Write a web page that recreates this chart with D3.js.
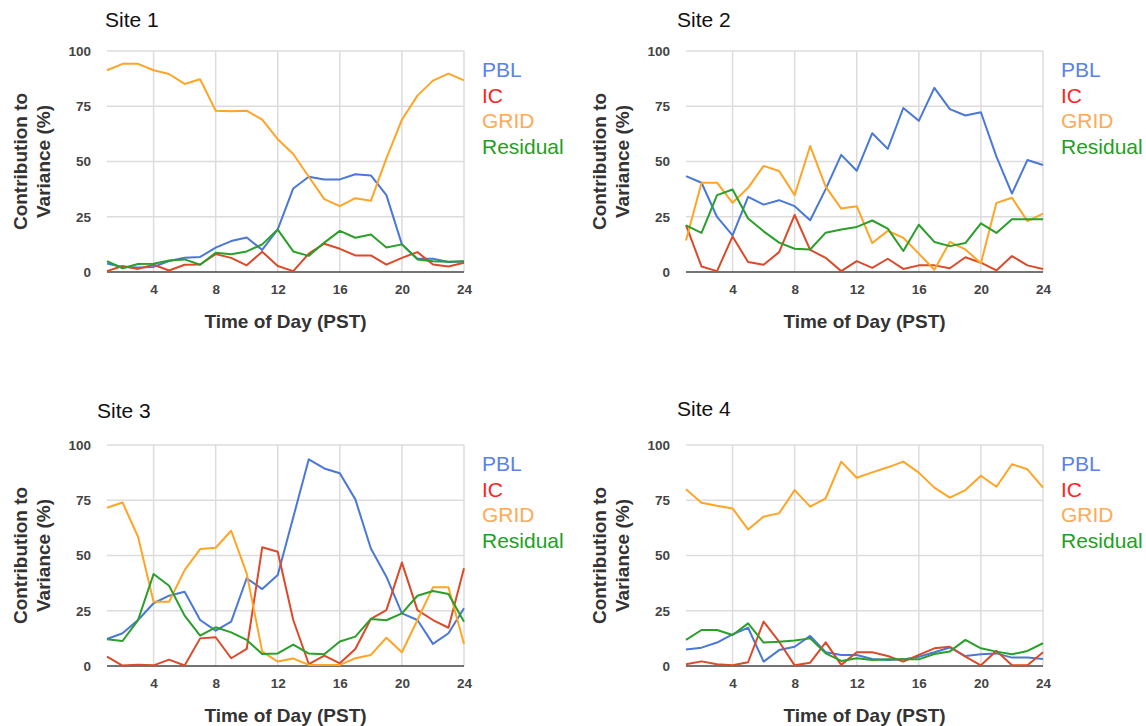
<!DOCTYPE html>
<html>
<head>
<meta charset="utf-8">
<script src="https://cdn.jsdelivr.net/npm/d3@7"></script>
<style>
  body { margin: 0; background: #fff; }
  svg text { font-family: "Liberation Sans", Arial, sans-serif; }
  .tick line { display: none; }
  .domain { display: none; }
</style>
</head>
<body>
<svg id="chart" width="1146" height="726"></svg>
<script>
// hours of the day
var hours = d3.range(1, 25);
var xTicks = [4, 8, 12, 16, 20, 24];
var yTicks = [0, 25, 50, 75, 100];
var seriesNames = ['PBL', 'IC', 'GRID', 'Residual'];
var siteNames = ['Site 1', 'Site 2', 'Site 3', 'Site 4'];

// site 1
var s1PBL = [3.8, 2.3, 2, 2.3, 5, 6.5, 6.8, 11, 14, 15.6, 10, 19.3, 37.8, 43.1, 41.9, 41.9, 44.2, 43.7, 34.8, 12.5, 6, 6, 4.5, 4.8];
var s1IC = [0.4, 2.7, 1.4, 3.3, 0.7, 3.3, 3.4, 8.1, 6.4, 3, 9.2, 2.7, 0.4, 8.3, 12.8, 10.5, 7.5, 7.5, 3.3, 6.4, 9, 3.4, 2.5, 4.2];
var s1GRID = [91.3, 94.2, 94.2, 91.3, 89.6, 85.1, 87.2, 73, 72.7, 73, 68.9, 60.1, 53.4, 43.1, 33, 29.8, 33.4, 32.2, 51.4, 68.9, 79.8, 86.6, 89.8, 86.7];
var s1Res = [4.9, 1.7, 3.6, 3.7, 5.2, 5.7, 3.3, 8.7, 8, 9.3, 12.5, 19.2, 9.3, 7.3, 13.3, 18.6, 15.5, 17, 11.1, 12.5, 5.7, 4.9, 4.6, 4.9];

// site 2
var s2PBL = [43.4, 40.4, 24.9, 16.6, 34, 30.5, 32.5, 29.8, 23.4, 37.5, 53, 45.8, 62.8, 55.7, 74.2, 68.4, 83.3, 73.7, 70.8, 72.3, 52.2, 35.5, 50.7, 48.4];
var s2IC = [21.2, 2.5, 0.4, 16.1, 4.5, 3.3, 9, 25.8, 10, 6.4, 0.4, 4.9, 1.9, 6, 1.4, 3, 3, 1.7, 6.7, 4.2, 0.7, 7.2, 3, 1.4];
var s2GRID = [14.3, 40.4, 40.4, 31.3, 38.1, 48, 45.7, 34.8, 57, 38.6, 28.7, 29.8, 13.1, 18.6, 15.5, 8.3, 1, 13.6, 10.2, 4, 31.3, 33.6, 23, 26.4];
var s2Res = [21.1, 17.7, 34.8, 37.3, 24.2, 18.4, 13.3, 10.5, 10.2, 17.8, 19.2, 20.4, 23.3, 19.6, 9.5, 21.4, 13.6, 11.7, 13.1, 22, 17.7, 23.9, 23.9, 23.9];

// site 3
var s3PBL = [12.2, 14.8, 20.8, 28.4, 31.8, 33.6, 20.8, 16, 20.1, 39.7, 34.8, 41.2, 67.3, 93.5, 89.4, 87.2, 75.4, 53.2, 40.4, 23.8, 20.8, 10, 14.8, 26.1];
var s3IC = [4.2, 0.2, 0.6, 0.3, 2.9, 0.2, 12.5, 13, 3.5, 7.7, 53.7, 51.7, 20.8, 0.9, 4.7, 1.2, 7.7, 21.3, 25.3, 46.8, 25.3, 20.8, 17.3, 44.2];
var s3GRID = [71.6, 74, 58.5, 29.1, 29.1, 43.4, 52.9, 53.5, 61.2, 41.9, 6.5, 2, 3.4, 0.5, 0.5, 0.5, 3.5, 5, 12.8, 6.2, 20.8, 35.6, 35.6, 10];
var s3Res = [12.1, 11.3, 20.8, 41.6, 36.3, 22.8, 13.7, 17.5, 15.2, 11.8, 5.4, 5.7, 9.7, 5.6, 5.3, 11.1, 13.3, 21.3, 20.7, 23.8, 31.8, 33.9, 32.6, 20];

// site 4
var s4PBL = [7.5, 8.3, 10.6, 14.3, 17.3, 2, 7.2, 8.7, 13.6, 6.2, 5, 5, 3.2, 2.7, 3, 4.2, 6.2, 8.4, 4.5, 5.3, 5.7, 3.8, 3.9, 3.2];
var s4IC = [0.8, 2.1, 0.8, 0.3, 1.7, 20.1, 11, 0.3, 1.5, 10.7, 0.5, 6.2, 6.2, 4.5, 2, 5, 8, 8.7, 4.2, 0.3, 6.9, 0.3, 0.3, 6.2];
var s4GRID = [80, 73.9, 72.5, 71.3, 61.8, 67.6, 69.1, 79.6, 72.1, 75.9, 92.5, 85.2, 87.6, 89.9, 92.5, 87.5, 80.7, 76.2, 79.6, 86.1, 81.1, 91.3, 89, 80.7];
var s4Res = [11.8, 16.3, 16.3, 14, 19.3, 10.6, 11, 11.5, 12.5, 5.7, 2.3, 3.5, 2.7, 3, 3, 3, 5.4, 6.6, 11.8, 8, 6.5, 5.3, 6.8, 10.3];

var lineColors = ['#4a78d6', '#db4a2b', '#ffa526', '#2a9f2a'];
var legendColors = ['#5a82e8', '#ff1f1f', '#ffaa55', '#1f9f1f'];

var sites = [
  [s1PBL, s1IC, s1GRID, s1Res],
  [s2PBL, s2IC, s2GRID, s2Res],
  [s3PBL, s3IC, s3GRID, s3Res],
  [s4PBL, s4IC, s4GRID, s4Res]
];

// panel origins (plot area top-left)
var origins = [[107, 51], [686, 51], [107, 445], [686, 445]];
var titleShift = [[-2, -24], [-9, -24], [-10, -27], [-9, -29]];
var width = 357, height = 221;

var svg = d3.select('#chart');

sites.forEach(function(site, i) {
  var ox = origins[i][0], oy = origins[i][1];
  var g = svg.append('g').attr('transform', 'translate(' + ox + ',' + oy + ')');

  var x = d3.scaleLinear().domain([1, 24]).range([0, width]);
  var y = d3.scaleLinear().domain([0, 100]).range([height, 0]);

  // grid
  g.selectAll('.hgrid').data(yTicks.slice(1)).enter().append('line')
    .attr('x1', 0).attr('x2', width)
    .attr('y1', function(d) { return y(d); }).attr('y2', function(d) { return y(d); })
    .attr('stroke', '#dcdcdc').attr('stroke-width', 1.5);
  g.selectAll('.vgrid').data(xTicks).enter().append('line')
    .attr('y1', 0).attr('y2', height)
    .attr('x1', function(d) { return x(d); }).attr('x2', function(d) { return x(d); })
    .attr('stroke', '#dcdcdc').attr('stroke-width', 1.5);

  // axes
  g.append('g')
    .attr('transform', 'translate(0,' + height + ')')
    .call(d3.axisBottom(x).tickValues(xTicks).tickSize(0).tickPadding(12))
    .selectAll('text')
    .attr('font-size', 13.5).attr('font-weight', 'bold').attr('fill', '#444');

  g.append('g')
    .call(d3.axisLeft(y).tickValues(yTicks).tickSize(0).tickPadding(16))
    .selectAll('text')
    .attr('font-size', 13.5).attr('font-weight', 'bold').attr('fill', '#444');

  // baseline
  g.append('line')
    .attr('x1', 0).attr('x2', width)
    .attr('y1', y(0)).attr('y2', y(0))
    .attr('stroke', '#444').attr('stroke-width', 1.5);

  // lines (draw order: PBL, IC, GRID, Residual)
  var line = d3.line()
    .x(function(d, j) { return x(hours[j]); })
    .y(function(d) { return y(d); });

  site.forEach(function(values, k) {
    g.append('path')
      .datum(values)
      .attr('fill', 'none')
      .attr('stroke', lineColors[k])
      .attr('stroke-width', 2)
      .attr('stroke-linejoin', 'round')
      .attr('d', line);
  });

  // title
  svg.append('text')
    .attr('x', ox + titleShift[i][0])
    .attr('y', oy + titleShift[i][1])
    .attr('font-size', 21)
    .attr('fill', '#111')
    .text(siteNames[i]);

  // y axis title
  var yt = svg.append('text')
    .attr('transform', 'translate(' + (ox - 80) + ',' + (oy + height / 2) + ') rotate(-90)')
    .attr('text-anchor', 'middle')
    .attr('font-size', 19).attr('font-weight', 'bold').attr('fill', '#333');
  yt.append('tspan').attr('x', 0).attr('dy', 0).text('Contribution to');
  yt.append('tspan').attr('x', 0).attr('dy', 23).text('Variance (%)');

  // x axis title
  svg.append('text')
    .attr('x', ox + width / 2)
    .attr('y', oy + height + 56)
    .attr('text-anchor', 'middle')
    .attr('font-size', 19).attr('font-weight', 'bold').attr('fill', '#333')
    .text('Time of Day (PST)');

  // legend
  svg.append('g').selectAll('text')
    .data(seriesNames).enter().append('text')
    .attr('x', ox + width + 18)
    .attr('y', function(d, k) { return oy + 26 + k * 25.5; })
    .attr('font-size', 21)
    .attr('fill', function(d, k) { return legendColors[k]; })
    .text(function(d) { return d; });
});
</script>
</body>
</html>
